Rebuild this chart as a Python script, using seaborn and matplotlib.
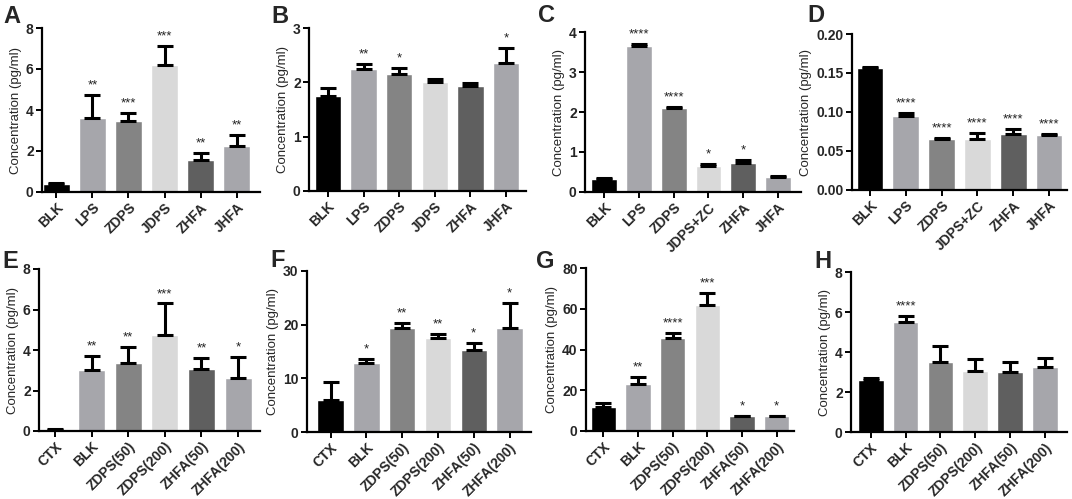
import numpy as np
import pandas as pd
import matplotlib
matplotlib.use("Agg")
import matplotlib.pyplot as plt
import seaborn as sns

# ---- data ----
cats_lps = ["BLK", "LPS", "ZDPS", "JDPS", "ZHFA", "JHFA"]
cats_lps_zc = ["BLK", "LPS", "ZDPS", "JDPS+ZC", "ZHFA", "JHFA"]
cats_ctx = ["CTX", "BLK", "ZDPS(50)", "ZDPS(200)", "ZHFA(50)", "ZHFA(200)"]

a_mean = [0.37, 3.62, 3.47, 6.18, 1.58, 2.22]
a_sem = [0.08, 1.12, 0.39, 0.93, 0.31, 0.58]
a_stars = ["", "**", "***", "***", "**", "**"]

b_mean = [1.75, 2.24, 2.15, 2.00, 1.94, 2.35]
b_sem = [0.14, 0.09, 0.12, 0.06, 0.05, 0.29]
b_stars = ["", "**", "*", "", "", "*"]

c_mean = [0.32, 3.66, 2.10, 0.66, 0.72, 0.37]
c_sem = [0.02, 0.05, 0.03, 0.03, 0.07, 0.02]
c_stars = ["", "****", "****", "*", "*", ""]

d_mean = [0.156, 0.095, 0.066, 0.066, 0.072, 0.070]
d_sem = [0.002, 0.004, 0.001, 0.007, 0.006, 0.002]
d_stars = ["", "****", "****", "****", "****", "****"]

e_mean = [0.07, 3.00, 3.37, 4.73, 3.07, 2.63]
e_sem = [0.01, 0.70, 0.76, 1.57, 0.55, 1.04]
e_stars = ["", "**", "**", "***", "**", "*"]

f_mean = [5.9, 12.9, 19.3, 17.6, 15.3, 19.3]
f_sem = [3.5, 0.7, 1.0, 0.6, 1.3, 4.8]
f_stars = ["", "*", "**", "**", "*", "*"]

g_mean = [11.8, 23.3, 45.6, 61.8, 7.2, 7.2]
g_sem = [1.8, 3.4, 2.6, 5.9, 0.3, 0.3]
g_stars = ["", "**", "****", "***", "*", "*"]

h_mean = [2.62, 5.51, 3.49, 3.07, 2.98, 3.27]
h_sem = [0.10, 0.28, 0.79, 0.56, 0.50, 0.45]
h_stars = ["", "****", "", "", "", ""]

PALETTE = ["#000000", "#a6a6ab", "#848484", "#d9d9d9", "#5f5f5f", "#a6a6ab"]

sns.set_style("ticks")
plt.rcParams["font.family"] = ["Liberation Sans", "DejaVu Sans"]

fig = plt.figure(figsize=(10.72, 4.99), dpi=100)
W, H = 1072, 499


def add_axes(left, right, top, bottom):
    return fig.add_axes([left / W, 1 - bottom / H, (right - left) / W, (bottom - top) / H])


def draw_panel(ax, letter, letter_xy, cats, mean, sem, stars, yticks, yfmt, xlim):
    df = pd.DataFrame({"group": cats, "conc": mean})
    sns.barplot(data=df, x="group", y="conc", hue="group", palette=PALETTE,
                legend=False, width=0.74, errorbar=None, ax=ax, saturation=1)
    pos = np.arange(len(cats))
    ax.errorbar(pos, mean, yerr=[np.zeros(len(sem)), sem], fmt="none",
                ecolor="black", elinewidth=2.2, capsize=6, capthick=2.2, zorder=1)
    for i, s in enumerate(stars):
        if s:
            ax.annotate(s, (pos[i], mean[i] + sem[i]), xytext=(0, 2.5),
                        textcoords="offset points", ha="center", va="bottom",
                        fontsize=9.5, color="#222222")
    ax.set_ylim(yticks[0], yticks[-1])
    ax.set_yticks(yticks)
    ax.set_yticklabels([yfmt.format(t) for t in yticks], fontweight="bold", fontsize=10)
    ax.set_xlim(*xlim)
    ax.set_xticks(pos)
    ax.set_xticklabels(cats, rotation=45, ha="right", rotation_mode="anchor",
                       fontweight="bold", fontsize=10)
    ax.set_xlabel("")
    ax.set_ylabel("Concentration (pg/ml)", fontsize=9.5, labelpad=3)
    for side in ("top", "right"):
        ax.spines[side].set_visible(False)
    for side in ("left", "bottom"):
        ax.spines[side].set_linewidth(1.6)
        ax.spines[side].set_color("black")
    ax.tick_params(axis="both", width=1.4, length=4, color="black", pad=2)
    fig.text(letter_xy[0] / W, 1 - letter_xy[1] / H, letter, fontsize=17,
             fontweight="bold", ha="left", va="top")


# top row
ax = add_axes(42, 260, 28, 192)
draw_panel(ax, "A", (3, 5), cats_lps, a_mean, a_sem, a_stars,
           [0, 2, 4, 6, 8], "{:g}", (-0.4, 5.65))
ax = add_axes(309, 526, 28, 191)
draw_panel(ax, "B", (271, 5), cats_lps, b_mean, b_sem, b_stars,
           [0, 1, 2, 3], "{:g}", (-0.53, 5.56))
ax = add_axes(585, 801, 32, 192)
draw_panel(ax, "C", (538, 4), cats_lps_zc, c_mean, c_sem, c_stars,
           [0, 1, 2, 3, 4], "{:g}", (-0.55, 5.66))
ax = add_axes(852, 1067, 34, 190)
draw_panel(ax, "D", (807, 4), cats_lps_zc, d_mean, d_sem, d_stars,
           [0.0, 0.05, 0.10, 0.15, 0.20], "{:.2f}", (-0.5, 5.5))

# bottom row
ax = add_axes(39, 260, 269, 431)
draw_panel(ax, "E", (2, 250), cats_ctx, e_mean, e_sem, e_stars,
           [0, 2, 4, 6, 8], "{:g}", (-0.44, 5.6))
ax = add_axes(307, 531, 271, 432)
draw_panel(ax, "F", (270, 249), cats_ctx, f_mean, f_sem, f_stars,
           [0, 10, 20, 30], "{:g}", (-0.66, 5.6))
ax = add_axes(586, 794, 268, 431)
draw_panel(ax, "G", (536, 250), cats_ctx, g_mean, g_sem, g_stars,
           [0, 20, 40, 60, 80], "{:g}", (-0.5, 5.5))
ax = add_axes(851, 1067, 272, 432)
draw_panel(ax, "H", (814, 250), cats_ctx, h_mean, h_sem, h_stars,
           [0, 2, 4, 6, 8], "{:g}", (-0.56, 5.62))

fig.savefig("out.png", dpi=100)
